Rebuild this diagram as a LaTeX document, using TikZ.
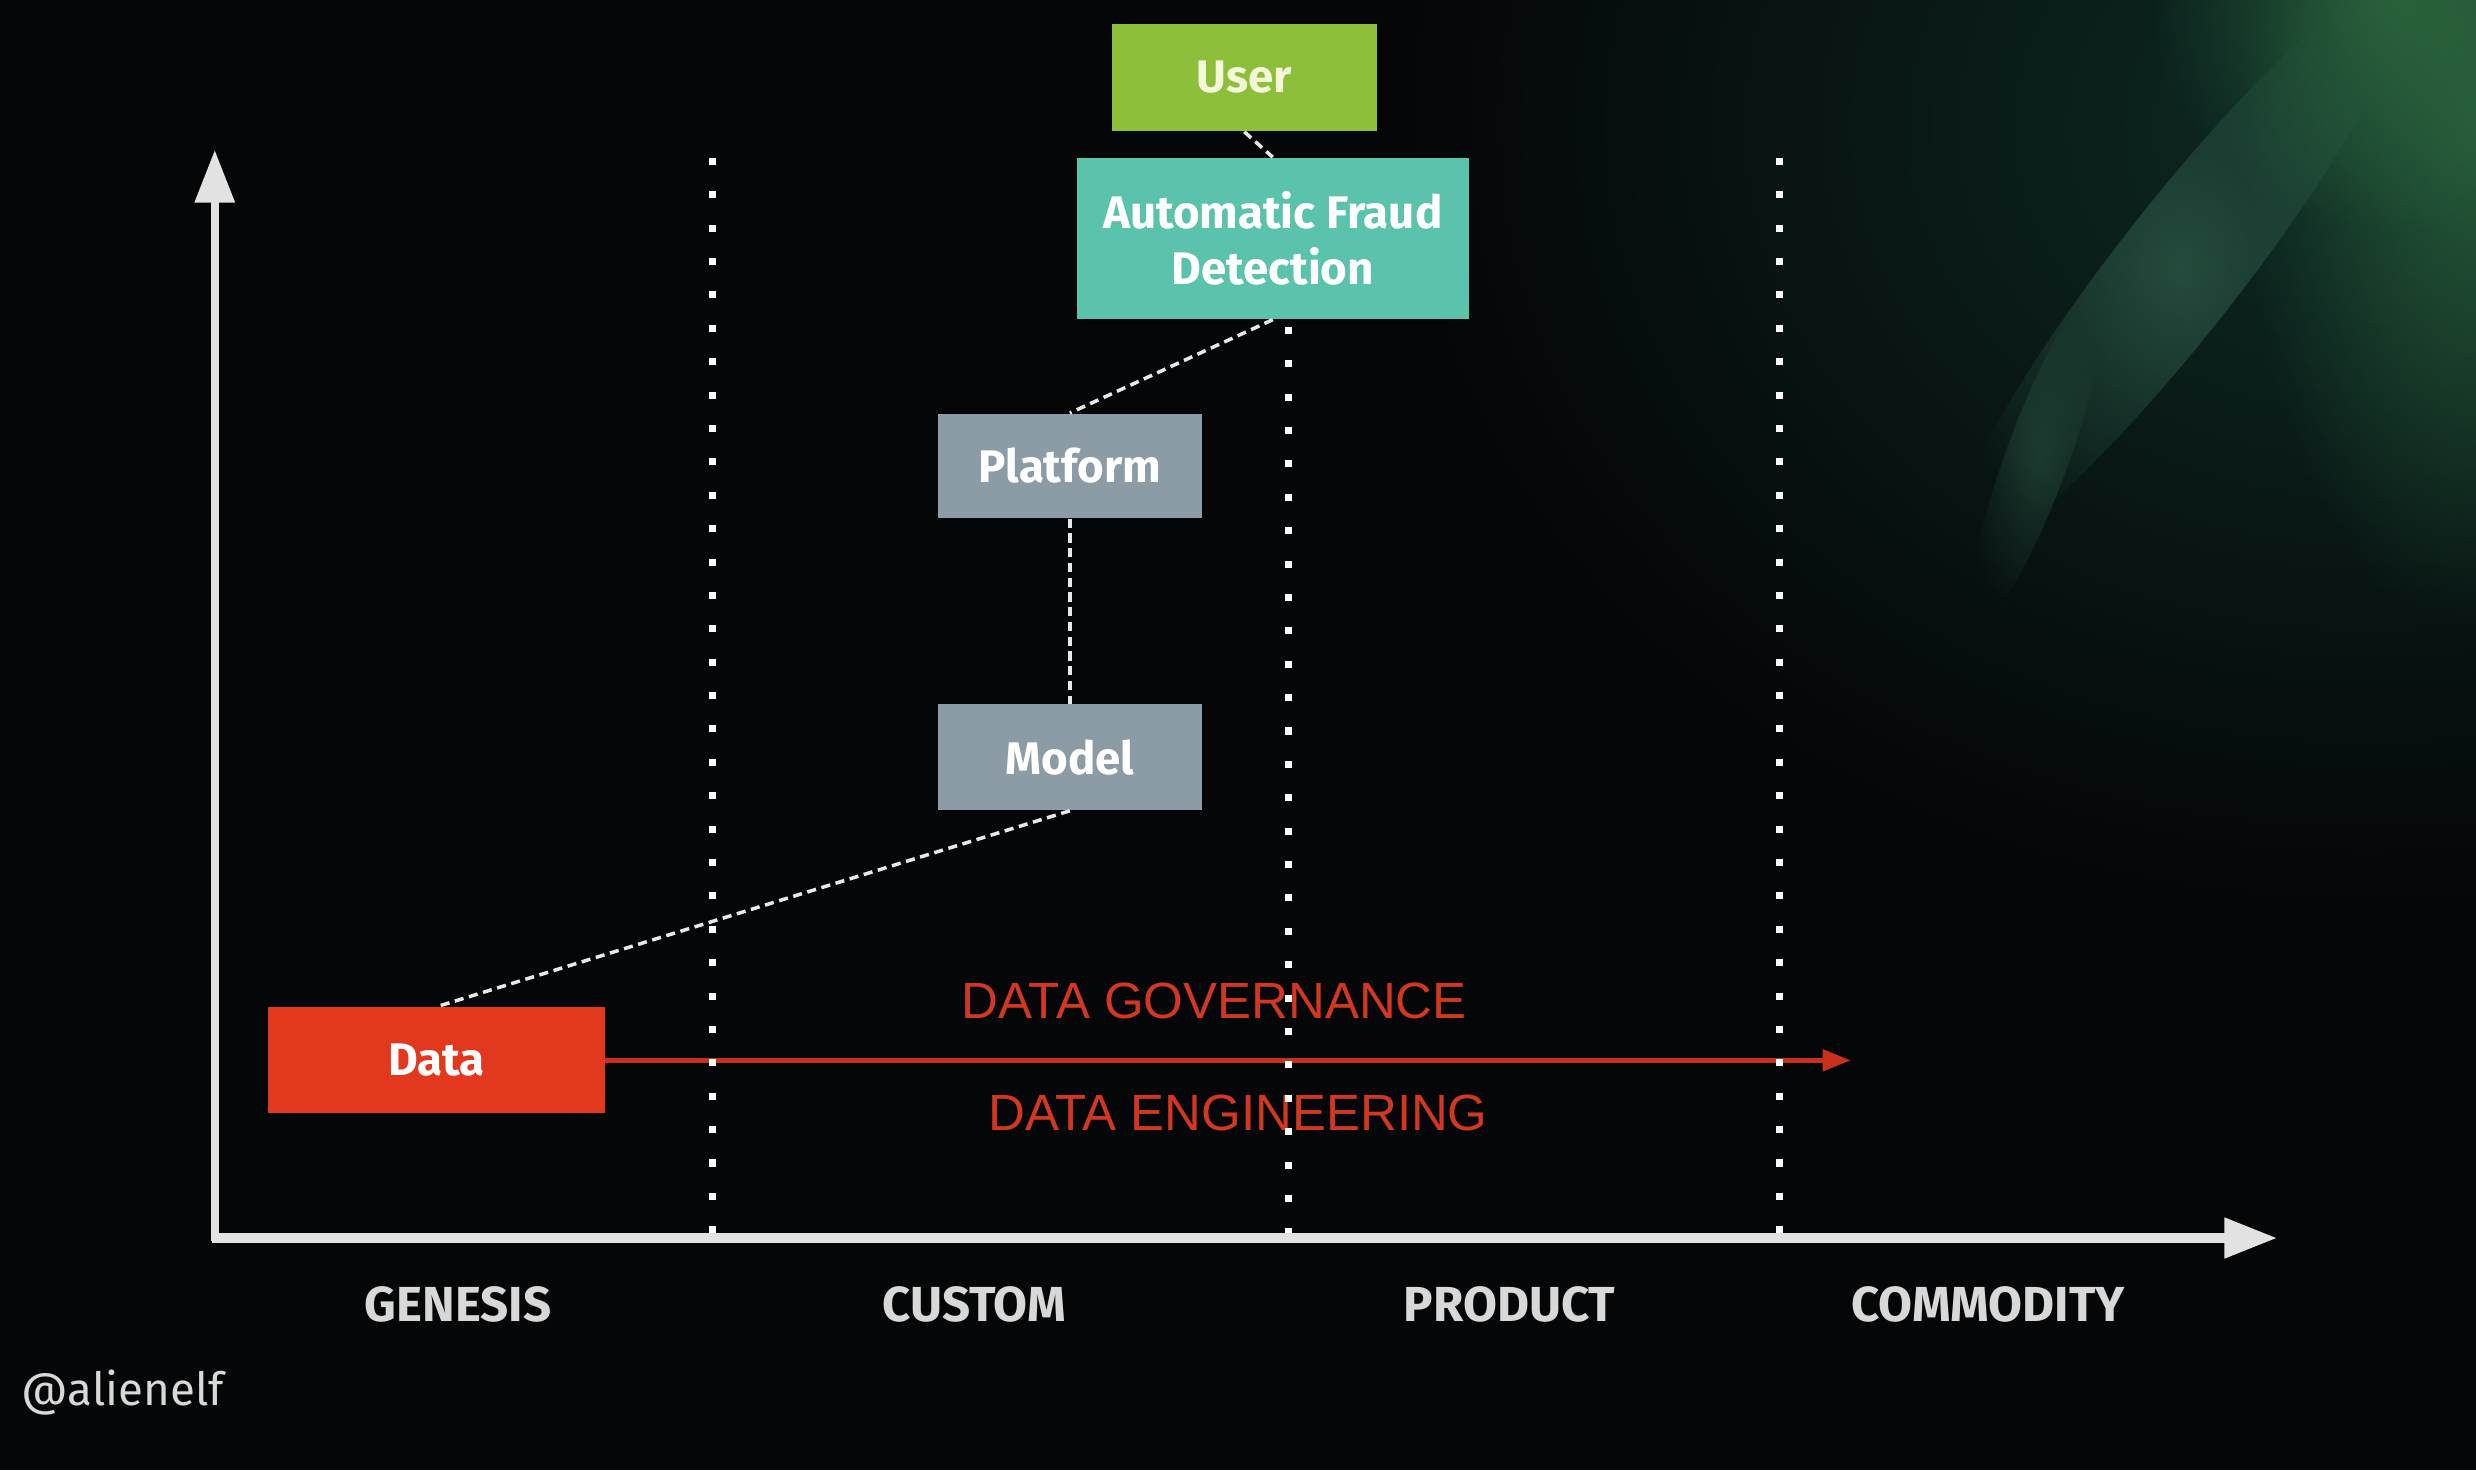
\documentclass[tikz,border=0pt]{standalone}
\usepackage{fontspec}
\setmainfont{Fira Sans}
\newfontfamily\arialf{Liberation Sans}
\usetikzlibrary{arrows.meta,fadings}
\tikzfading[name=myglow, inner color=transparent!0, outer color=transparent!100]
\definecolor{bg}{HTML}{050608}
\definecolor{usergreen}{HTML}{8DBF3A}
\definecolor{usertext}{HTML}{F2F8D8}
\definecolor{teal}{HTML}{5BC3AC}
\definecolor{grayb}{HTML}{8C9CA6}
\definecolor{datared}{HTML}{E2391E}
\definecolor{redline}{HTML}{C8321C}
\definecolor{redtext}{HTML}{D2381F}
\definecolor{labc}{HTML}{D8D8D8}
\definecolor{axisc}{HTML}{E2E2E2}
\definecolor{dashc}{HTML}{E8E8E8}
\definecolor{glowa}{HTML}{0E2A25}
\definecolor{glowb}{HTML}{2E6A40}
\definecolor{glowc}{HTML}{3A7058}
\begin{document}
\begin{tikzpicture}[x=0.01579cm,y=-0.01579cm,
  box/.style={rectangle, inner sep=0pt, align=center,
    font=\fontsize{13}{16}\selectfont\bfseries},
  conn/.style={draw=dashc, line width=1pt, dash pattern=on 2.6pt off 1.6pt},
  vdot/.style={draw=white, line width=2pt, dash pattern=on 2pt off 7.5pt},
  lbl/.style={font=\fontsize{14}{16}\selectfont\bfseries, text=labc, inner sep=0pt},
  redlbl/.style={font=\arialf\fontsize{14.5}{16}\selectfont, text=redtext, inner sep=0pt},
  axisline/.style={draw=axisc, -{Triangle[length=15pt,width=11pt]}}]
\fill[bg] (0,0) rectangle (1568,931);
\useasboundingbox (0,0) rectangle (1568,931);
% background glow (top right)
\begin{scope}
\clip (0,0) rectangle (1568,931);
\fill[glowa, path fading=myglow] (1500,80) ellipse (620 and 500);
\fill[glowb, path fading=myglow, opacity=0.75] (1568,80) ellipse (150 and 320);
\fill[glowb, path fading=myglow, opacity=0.8] (1520,0) ellipse (160 and 150);
\fill[glowc, path fading=myglow, opacity=0.55, rotate around={52:(1380,170)}] (1380,170) ellipse (230 and 40);
\fill[glowc, path fading=myglow, opacity=0.35, rotate around={70:(1290,290)}] (1290,290) ellipse (110 and 20);
\end{scope}
% nodes
\node[box, fill=usergreen, text=usertext, minimum width=2.653cm, minimum height=1.074cm] (user) at (788,49) {User};
\node[box, fill=teal, text=white, minimum width=3.916cm, minimum height=1.611cm] (afd) at (806,151) {Automatic Fraud\\Detection};
\node[box, fill=grayb, text=white, minimum width=2.637cm, minimum height=1.042cm] (platform) at (677.5,295) {Platform};
\node[box, fill=grayb, text=white, minimum width=2.637cm, minimum height=1.058cm] (model) at (677.5,479.5) {Model};
\node[box, fill=datared, text=white, minimum width=3.363cm, minimum height=1.058cm] (data) at (276.5,671.5) {Data};
% connectors
\draw[conn] (user.south) -- (afd.north);
\draw[conn] (afd.south) -- (platform.north);
\draw[conn] (platform.south) -- (model.north);
\draw[conn] (model.south) -- (data.north);
% red arrow and labels
\coordinate (redend) at (1172,671.5);
\draw[redline, line width=1.4pt, -{Triangle[length=8pt,width=6pt]}] (data.east) -- (redend);
\node[redlbl] (gov) at (769,634) {DATA GOVERNANCE};
\node[redlbl] (eng) at (784,705) {DATA ENGINEERING};
% dotted separators
\coordinate (d1t) at (451,100); \coordinate (d1b) at (451,783);
\coordinate (d2t) at (816,207); \coordinate (d2b) at (816,783);
\coordinate (d3t) at (1127,100); \coordinate (d3b) at (1127,783);
\draw[vdot] (d1t) -- (d1b);
\draw[vdot] (d2t) -- (d2b);
\draw[vdot] (d3t) -- (d3b);
% axes
\coordinate (origin) at (134,784);
\coordinate (ybase) at (136,786);
\coordinate (ytip) at (136,95);
\coordinate (xtip) at (1442,784);
\draw[axisline, line width=2.6pt] (origin) -- (xtip);
\draw[axisline, line width=2.2pt] (ybase) -- (ytip);
% axis labels
\node[lbl] (genesis) at (290,826) {GENESIS};
\node[lbl] (custom) at (617,826) {CUSTOM};
\node[lbl] (product) at (956,826) {PRODUCT};
\node[lbl] (commodity) at (1259,826) {COMMODITY};
\node[font=\fontsize{13}{16}\selectfont, text=labc, anchor=west, inner sep=0pt] (handle) at (13,882) {@alienelf};
\end{tikzpicture}
\end{document}
